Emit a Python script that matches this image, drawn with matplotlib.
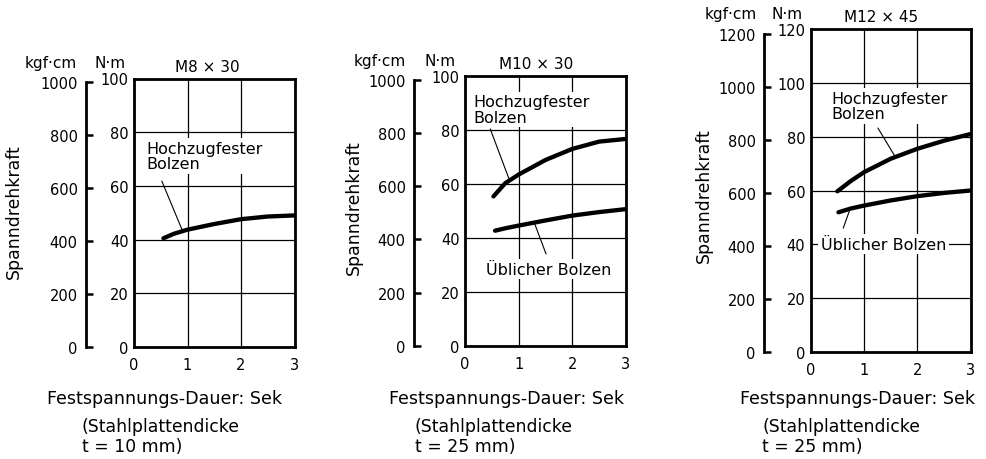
import matplotlib
matplotlib.use('Agg')
import matplotlib.pyplot as plt

plt.rcParams['font.family'] = ['DejaVu Sans']

# ---------------- data ----------------
x_ticks = [0, 1, 2, 3]
nm_ticks_100 = [0, 20, 40, 60, 80, 100]
nm_ticks_120 = [0, 20, 40, 60, 80, 100, 120]
kgf_ticks_1000 = [0, 200, 400, 600, 800, 1000]
kgf_ticks_1200 = [0, 200, 400, 600, 800, 1000, 1200]

titles = ['M8 × 30', 'M10 × 30', 'M12 × 45']
unit_kgf = 'kgf·cm'
unit_nm = 'N·m'
y_label = 'Spanndrehkraft'
x_label = 'Festspannungs-Dauer: Sek'
plate_note = '(Stahlplattendicke'
thickness_notes = ['t = 10 mm)', 't = 25 mm)', 't = 25 mm)']
label_high = 'Hochzugfester\nBolzen'
label_std = 'Üblicher Bolzen'

# M8 x 30 - high tensile bolt
p1_high_t = [0.55, 0.75, 1.0, 1.5, 2.0, 2.5, 3.0]
p1_high_nm = [40.5, 42.2, 43.7, 45.8, 47.6, 48.6, 49.0]
# M10 x 30
p2_high_t = [0.53, 0.75, 1.0, 1.5, 2.0, 2.5, 3.0]
p2_high_nm = [55.4, 60.3, 63.5, 68.9, 73.0, 75.7, 76.7]
p2_std_t = [0.56, 0.75, 1.0, 1.5, 2.0, 2.5, 3.0]
p2_std_nm = [42.7, 43.6, 44.6, 46.5, 48.3, 49.6, 50.7]
# M12 x 45
p3_high_t = [0.50, 0.75, 1.0, 1.5, 2.0, 2.5, 3.0]
p3_high_nm = [59.7, 63.5, 66.8, 71.8, 75.5, 78.5, 81.0]
p3_std_t = [0.52, 0.75, 1.0, 1.5, 2.0, 2.5, 3.0]
p3_std_nm = [51.9, 53.3, 54.4, 56.3, 57.9, 59.1, 60.0]

# ---------------- layout ----------------
W, H = 987, 460
fig = plt.figure(figsize=(W / 100, H / 100), dpi=100)


def px_axes(left, right, top, bottom):
    return fig.add_axes([left / W, 1 - bottom / H, (right - left) / W, (bottom - top) / H])


def ftext(x, y, s, **kw):
    fig.text(x / W, 1 - y / H, s, **kw)


panels = [
    dict(box=(134, 294.5, 79.5, 348), k=(86, 83.3), ymax=100, kmax=1000,
         nm=nm_ticks_100, kg=kgf_ticks_1000,
         hdr=(51.2, 110, 207.3, 68.3, 72.3), ylab=(14, 212),
         bottom=(47, 81.7)),
    dict(box=(465, 626, 77, 347), k=(414, 80.7), ymax=100, kmax=1000,
         nm=nm_ticks_100, kg=kgf_ticks_1000,
         hdr=(379.3, 440.3, 536.3, 65.7, 69), ylab=(354, 207.5),
         bottom=(389.3, 415)),
    dict(box=(810.7, 970.7, 30, 353), k=(764, 35), ymax=120, kmax=1200,
         nm=nm_ticks_120, kg=kgf_ticks_1200,
         hdr=(730.7, 787.3, 881.2, 19, 21.7), ylab=(704, 196),
         bottom=(740.3, 762)),
]

axes = []
for i, p in enumerate(panels):
    l, r, t, b = p['box']
    ax = px_axes(l, r, t, b)
    ax.set_xlim(0, 3)
    ax.set_ylim(0, p['ymax'])
    ax.set_xticks(x_ticks)
    ax.set_yticks(p['nm'])
    ax.tick_params(axis='both', length=0, labelsize=10.5)
    ax.tick_params(axis='x', pad=7)
    ax.tick_params(axis='y', pad=4)
    ax.grid(True, color='black', lw=0.9)
    ax.set_axisbelow(True)
    for sp in ax.spines.values():
        sp.set_linewidth(2)
        sp.set_zorder(6)
    axes.append(ax)

    # kgf.cm secondary scale
    kx, ktop = p['k']
    axk = px_axes(kx, kx + 1, ktop, b)
    axk.patch.set_visible(False)
    for name in ('top', 'right', 'bottom'):
        axk.spines[name].set_visible(False)
    axk.spines['left'].set_linewidth(2)
    axk.set_xticks([])
    axk.set_ylim(0, p['kmax'])
    axk.set_yticks(p['kg'])
    axk.tick_params(axis='y', direction='in', length=5, width=1.8, pad=6, labelsize=10.5)

    # headers
    xk, xn, xt, yb, yt = p['hdr']
    ftext(xk, yb, unit_kgf, ha='center', va='baseline', fontsize=11)
    ftext(xn, yb, unit_nm, ha='center', va='baseline', fontsize=11)
    ftext(xt, yt, titles[i], ha='center', va='baseline', fontsize=11)
    # y label
    ftext(p['ylab'][0], p['ylab'][1], y_label, rotation=90, ha='center', va='center', fontsize=12.4)
    # bottom notes
    bx1, bx2 = p['bottom']
    ftext(bx1, 404.3, x_label, ha='left', va='baseline', fontsize=12.6)
    ftext(bx2, 431.7, plate_note, ha='left', va='baseline', fontsize=12.4)
    ftext(bx2, 451.7, thickness_notes[i], ha='left', va='baseline', fontsize=12.4)

curve_kw = dict(color='black', lw=3.1, solid_capstyle='round', zorder=5)
leader_kw = dict(arrowstyle='-', lw=0.8, color='black', shrinkA=0, shrinkB=0)
text_kw = dict(fontsize=11.5, ha='left', va='center', linespacing=1.05, zorder=4,
               bbox=dict(fc='white', ec='none', pad=1.8))

ax1, ax2, ax3 = axes
ax1.plot(p1_high_t, p1_high_nm, **curve_kw)
ax1.text(0.24, 71.1, label_high, **text_kw)
ax1.annotate('', xy=(0.90, 43.6), xytext=(0.52, 61.8), arrowprops=leader_kw, zorder=5)

ax2.plot(p2_high_t, p2_high_nm, **curve_kw)
ax2.plot(p2_std_t, p2_std_nm, **curve_kw)
ax2.text(0.15, 87.6, label_high, **text_kw)
ax2.annotate('', xy=(0.82, 61.9), xytext=(0.47, 80.4), arrowprops=leader_kw, zorder=5)
ax2.text(0.40, 28.5, label_std, **text_kw)
ax2.annotate('', xy=(1.30, 45.2), xytext=(1.51, 34.1), arrowprops=leader_kw, zorder=5)

ax3.plot(p3_high_t, p3_high_nm, **curve_kw)
ax3.plot(p3_std_t, p3_std_nm, **curve_kw)
ax3.text(0.38, 91.4, label_high, **text_kw)
ax3.annotate('', xy=(1.58, 72.7), xytext=(1.26, 83.2), arrowprops=leader_kw, zorder=5)
ax3.text(0.19, 40.0, label_std, **text_kw)
ax3.annotate('', xy=(0.75, 53.8), xytext=(0.61, 46.0), arrowprops=leader_kw, zorder=5)

fig.savefig('out.png', dpi=100)
